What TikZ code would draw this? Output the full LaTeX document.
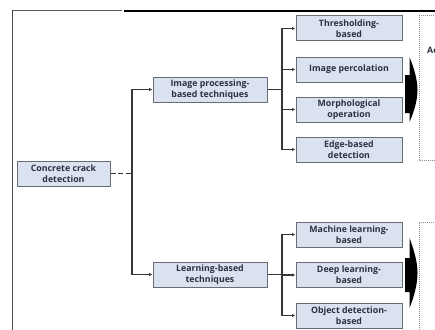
\documentclass[tikz,border=0pt]{standalone}
\usepackage{fontspec}
\setmainfont{Open Sans}
\usetikzlibrary{arrows.meta}
\definecolor{boxfill}{RGB}{218,226,240}
\definecolor{boxline}{RGB}{105,108,118}
\definecolor{txt}{RGB}{45,48,62}
\definecolor{linec}{RGB}{55,55,55}
\definecolor{dotc}{RGB}{140,140,140}
\tikzset{
  box/.style={draw=boxline, line width=1pt, fill=boxfill, text=txt, align=center,
    font=\fontsize{8.8}{11.2}\selectfont\bfseries, inner sep=1pt, minimum height=25pt},
  wbox/.style={box, minimum width=106pt},
  conn/.style={draw=linec, line width=1.2pt},
  arr/.style={conn, -{Latex[length=3.5pt,width=3.5pt]}},
  dotbox/.style={draw=dotc, line width=1pt, dash pattern=on 1pt off 1pt},
  bigarrow/.style={fill=black, draw=none}
}
\begin{document}
\begin{tikzpicture}[x=1pt,y=-1pt]
\useasboundingbox (0,0) rectangle (435,329);
\clip (0,0) rectangle (435,329);
% frame lines
\draw[draw=gray!70!black, line width=1pt] (12,10.5) -- (122,10.5);
\draw[draw=black, line width=2pt] (124,11) -- (436,11);
\draw[draw=gray!60!black, line width=1pt] (12.5,10) -- (12.5,330);
% nodes
\node[box, minimum width=93pt] (ccd) at (63.5,173.5) {Concrete crack\\detection};
\node[box, minimum width=114pt] (ipt) at (210,89.5) {Image processing-\\based techniques};
\node[box, minimum width=114pt] (lbt) at (210,274.5) {Learning-based\\techniques};
\node[wbox] (thr) at (349,28.5) {Thresholding-\\based};
\node[wbox] (perc) at (349,69.5) {Image percolation};
\node[wbox] (morph) at (349,109.5) {Morphological\\operation};
\node[wbox] (edge) at (349,149.5) {Edge-based\\detection};
\node[wbox] (ml) at (349,234.5) {Machine learning-\\based};
\node[wbox] (dl) at (349,275) {Deep learning-\\based};
\node[wbox] (od) at (349,315.5) {Object detection-\\based};
% connectors
\coordinate (j0) at (132,173.5);
\coordinate (j1) at (282,89.5);
\coordinate (j2) at (282,274.5);
\draw[conn, line width=1.3pt, dash pattern=on 5pt off 2.5pt] (ccd) -- (j0);
\draw[arr] (j0) |- (ipt);
\draw[arr] (j0) |- (lbt);
\draw[conn] (ipt) -- (j1);
\draw[arr] (j1) |- (thr);
\draw[arr] (j1) |- (perc);
\draw[arr] (j1) |- (morph);
\draw[arr] (j1) |- (edge);
\draw[conn] (lbt) -- (j2);
\draw[arr] (j2) |- (ml);
\draw[arr] (j2) |- (dl);
\draw[arr] (j2) |- (od);
% big arrows
\fill[bigarrow] (409.5,57) .. controls (414,68) and (417.5,80) .. (417.5,90)
  .. controls (417.5,100) and (414,112) .. (409.5,122) -- (409.5,113) -- (405,113) -- (405,75) -- (409.5,75) -- cycle;
\fill[bigarrow] (409.5,238) .. controls (414,250) and (417.5,262) .. (417.5,273)
  .. controls (417.5,284) and (414,297) .. (409.5,308) -- (409.5,292) -- (405,292) -- (405,258) -- (409.5,258) -- cycle;
% dotted boxes
\draw[dotbox] (440,16) -- (419,16) -- (419,160) -- (440,160);
\draw[dotbox] (440,222) -- (419,222) -- (419,335);
\node[anchor=west, text=txt, font=\fontsize{8.8}{11}\selectfont\bfseries, inner sep=0pt] (ac) at (427,50) {Ac};
\end{tikzpicture}
\end{document}
